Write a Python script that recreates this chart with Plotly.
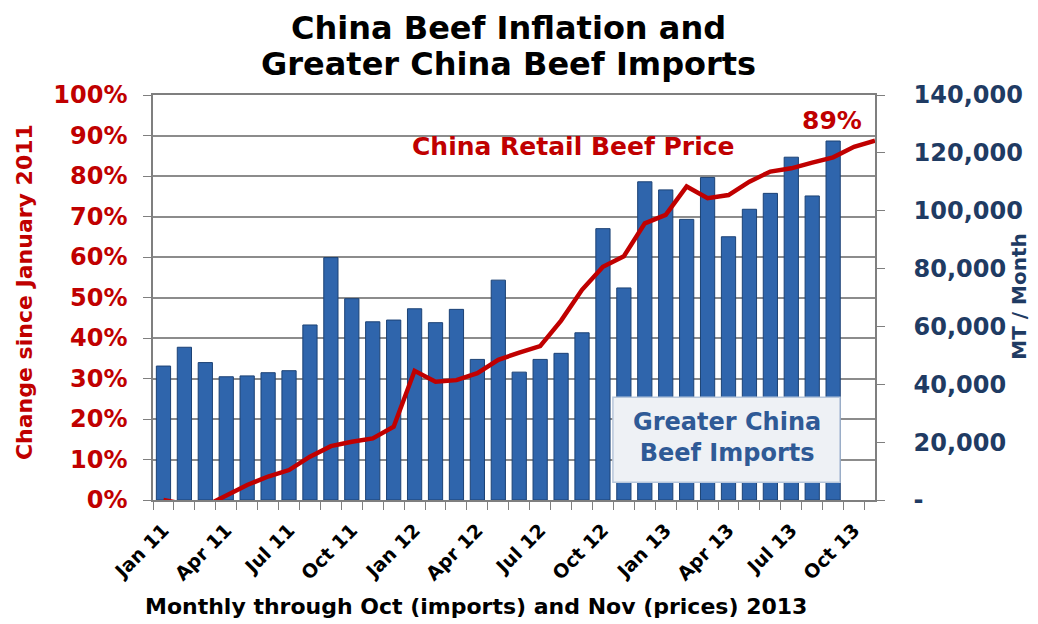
import plotly.graph_objects as go

FONT = "DejaVu Sans"
RED = "#C00000"
NAVY = "#1F3B63"
BAR_BLUE = "#2F65AC"
GRID = "#8C8C8C"
AXIS = "#7F7F7F"

# months Jan 11 .. Nov 13
months = [
    "Jan 11", "Feb 11", "Mar 11", "Apr 11", "May 11", "Jun 11", "Jul 11", "Aug 11", "Sep 11", "Oct 11", "Nov 11", "Dec 11",
    "Jan 12", "Feb 12", "Mar 12", "Apr 12", "May 12", "Jun 12", "Jul 12", "Aug 12", "Sep 12", "Oct 12", "Nov 12", "Dec 12",
    "Jan 13", "Feb 13", "Mar 13", "Apr 13", "May 13", "Jun 13", "Jul 13", "Aug 13", "Sep 13", "Oct 13", "Nov 13",
]

# Greater China beef imports, MT / month
imports = [
    46300, 52800, 47500, 42600, 42900, 44000, 44700, 60500, 83800, 69600, 61600, 62200,
    66100, 61300, 65900, 48600, 76000, 44200, 48600, 50700, 57800, 93800, 73300, 110000,
    107200, 97000, 111500, 91000, 100500, 106000, 118500, 105100, 124100,
]

# China retail beef price, % change since January 2011
price_change = [
    0, -1, -1.5, 1, 3.7, 5.8, 7.4, 10.7, 13.3, 14.4, 15.2, 18.1,
    31.9, 29.2, 29.6, 31.3, 34.6, 36.4, 38.0, 44.3, 51.9, 57.6, 60.2, 68.3,
    70.4, 77.4, 74.5, 75.3, 78.6, 81.1, 81.9, 83.3, 84.6, 87.2, 88.7,
]

pct_ticks = [0, 10, 20, 30, 40, 50, 60, 70, 80, 90, 100]
pct_labels = ["0%", "10%", "20%", "30%", "40%", "50%", "60%", "70%", "80%", "90%", "100%"]
mt_ticks = [0, 20000, 40000, 60000, 80000, 100000, 120000, 140000]
mt_labels = ["-", "20,000", "40,000", "60,000", "80,000", "100,000", "120,000", "140,000"]
month_labels = [m if i % 3 == 0 else "" for i, m in enumerate(months)]

fig = go.Figure()

# bars on the base (right) axis so the price line on the overlay is drawn on top
fig.add_trace(go.Bar(
    x=months[:len(imports)], y=imports, yaxis="y", name="Greater China Beef Imports",
    marker=dict(color=BAR_BLUE, line=dict(color="#1C4275", width=1)),
))
fig.add_trace(go.Scatter(
    x=months, y=price_change, yaxis="y2", mode="lines", name="China Retail Beef Price",
    line=dict(color=RED, width=4.5),
))

# page is drawn with an 8px body margin, so the figure is 8px smaller than the window
fig.update_layout(
    width=1030, height=616,
    margin=dict(l=145, r=163, t=87, b=124),
    paper_bgcolor="white", plot_bgcolor="white",
    showlegend=False, bargap=0.32,
    font=dict(family=FONT, color="black"),
    xaxis=dict(
        type="category", categoryorder="array", categoryarray=months,
        tickvals=months, ticktext=month_labels, tickangle=-45,
        tickfont=dict(size=19, color="black", weight="bold"),
        ticks="outside", ticklen=8, tickcolor=AXIS, tickson="boundaries",
        ticklabelstandoff=10,
        showline=True, linecolor=AXIS, linewidth=1.5, mirror=True,
        showgrid=False,
    ),
    yaxis=dict(
        side="right", range=[0, 140000],
        tickvals=mt_ticks, ticktext=mt_labels,
        tickfont=dict(size=24, color=NAVY, weight="bold"),
        ticks="outside", ticklen=8, tickcolor=AXIS, ticklabelstandoff=24,
        showline=True, linecolor=AXIS, linewidth=1.5,
        showgrid=False, zeroline=False,
        # horizontal grid every 10% of the left scale
        minor=dict(dtick=14000, tick0=0, showgrid=True, gridcolor=GRID, gridwidth=1.5, ticks=""),
    ),
    yaxis2=dict(
        overlaying="y", side="left", range=[0, 100],
        tickvals=pct_ticks, ticktext=pct_labels,
        tickfont=dict(size=24, color=RED, weight="bold"),
        ticks="outside", ticklen=8, tickcolor=AXIS, ticklabelstandoff=11,
        showline=True, linecolor=AXIS, linewidth=1.5,
        showgrid=False, zeroline=False,
    ),
)

# title
fig.add_annotation(
    text="<b>China Beef Inflation and</b>",
    xref="paper", yref="paper", x=0.4917, y=1.1647, xanchor="center", yanchor="middle",
    showarrow=False, font=dict(size=32, color="black"),
)
fig.add_annotation(
    text="<b>Greater China Beef Imports</b>",
    xref="paper", yref="paper", x=0.4917, y=1.077, xanchor="center", yanchor="middle",
    showarrow=False, font=dict(size=32, color="black"),
)

# axis titles
fig.add_annotation(
    text="<b>Change since January 2011</b>", textangle=-90,
    xref="paper", yref="paper", x=-0.177, y=0.514, xanchor="center", yanchor="middle",
    showarrow=False, font=dict(size=22, color=RED),
)
fig.add_annotation(
    text="<b>MT / Month</b>", textangle=-90,
    xref="paper", yref="paper", x=1.2, y=0.503, xanchor="center", yanchor="middle",
    showarrow=False, font=dict(size=20, color=NAVY),
)
fig.add_annotation(
    text="<b>Monthly through Oct (imports) and Nov (prices) 2013</b>",
    xref="paper", yref="paper", x=0.447, y=-0.264, xanchor="center", yanchor="middle",
    showarrow=False, font=dict(size=22, color="black"),
)

# series labels
fig.add_annotation(
    text="<b>China Retail Beef Price</b>",
    xref="paper", yref="paper", x=0.582, y=0.872, xanchor="center", yanchor="middle",
    showarrow=False, font=dict(size=25, color=RED),
)
fig.add_annotation(
    text="<b>89%</b>",
    xref="paper", yref="paper", x=0.94, y=0.938, xanchor="center", yanchor="middle",
    showarrow=False, font=dict(size=25, color=RED),
)
fig.add_shape(
    type="rect", xref="paper", yref="paper",
    x0=0.637, x1=0.9515, y0=0.044, y1=0.254,
    fillcolor="#EEF1F5", line=dict(color="#B8C7DB", width=1.5), layer="above",
)
fig.add_annotation(
    text="<b>Greater China<br>Beef Imports</b>",
    xref="paper", yref="paper", x=0.795, y=0.155, xanchor="center", yanchor="middle",
    showarrow=False, font=dict(size=24, color="#2F5A96"),
)

fig.write_html("out.html")
